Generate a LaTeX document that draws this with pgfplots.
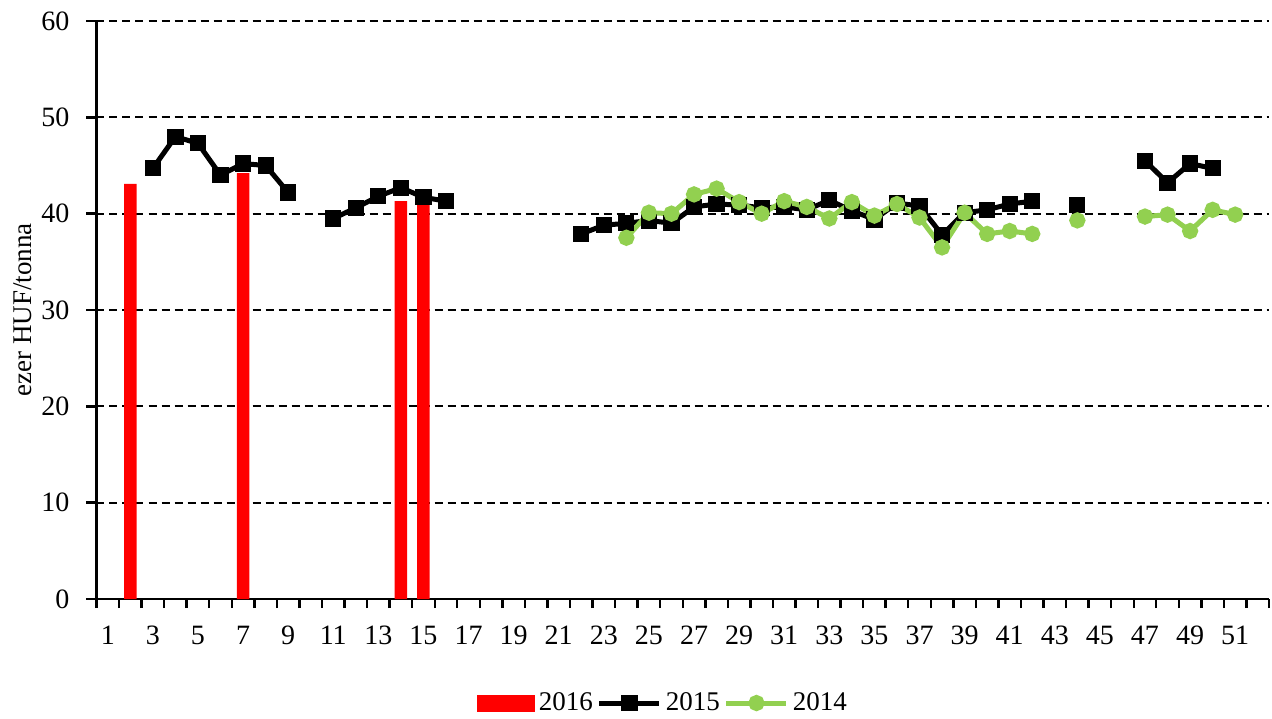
\documentclass[border=0pt]{standalone}
\usepackage{pgfplots}
\pgfplotsset{compat=1.18}
\usepackage{fontspec}
\setmainfont{Liberation Serif}
\definecolor{grn}{RGB}{146,208,80}
\pgfplotsset{
  longline legend/.style={legend image code/.code={\draw[##1, mark repeat=2, mark phase=2] plot coordinates {(0pt,0pt) (15pt,0pt) (30pt,0pt)};}},
  redbox legend/.style={legend image code/.code={\fill[red] (0pt,-4.25pt) rectangle (29pt,4.25pt);}},
}
\begin{document}
\begin{tikzpicture}
\path[use as bounding box] (-48.25pt,-59.5pt) rectangle (587.75pt,299.5pt);
\begin{axis}[
  at={(0,0)}, anchor=south west,
  scale only axis, width=586.25pt, height=289pt,
  xmin=0.5, xmax=52.5, ymin=0, ymax=60,
  axis x line*=bottom, axis y line*=left,
  axis line style={-, line width=1.2pt},
  ytick={0,10,...,60},
  xtick={1,3,...,51},
  minor xtick={0.5,1.5,...,52.5},
  major x tick style={draw=none},
  minor x tick style={line width=1.2pt, black},
  major y tick style={line width=1.2pt, black},
  tick align=outside, major tick length=5pt, minor tick length=4.5pt,
  ymajorgrids, major grid style={black, line width=0.9pt, dash pattern=on 4pt off 2.5pt},
  /pgf/number format/assume math mode=true,
  tick label style={font=\fontsize{14}{16}\selectfont},
  yticklabel style={xshift=-5pt},
  xticklabel style={yshift=-5pt},
  ylabel={ezer HUF/tonna},
  every axis y label/.style={at={(axis description cs:-0.063,0.5)}, rotate=90, anchor=center, font=\fontsize{13.5}{16}\selectfont},
  unbounded coords=jump,
  legend columns=3,
  legend style={draw=none, at={(axis description cs:0.484,-0.18)}, anchor=center,
    font=\fontsize{13.5}{16}\selectfont, /tikz/every even column/.append style={column sep=0pt}},
]
\addplot[ybar, bar width=6.2pt, fill=red, draw=none, redbox legend]
  coordinates {(2,43.1) (7,44.2) (14,41.3) (15,41.1)};
\addlegendentry{2016}
\addplot[black, line width=2.5pt, mark=square*, mark size=2.8pt, mark options={solid}, longline legend]
  coordinates {
  (3,44.7) (4,48.0) (5,47.3) (6,44.0) (7,45.2) (8,45.0) (9,42.2) (10,nan)
  (11,39.5) (12,40.6) (13,41.8) (14,42.7) (15,41.7) (16,41.3) (17,nan)
  (22,37.9) (23,38.8) (24,39.0) (25,39.3) (26,39.0) (27,40.7) (28,41.0) (29,40.9)
  (30,40.6) (31,40.7) (32,40.4) (33,41.4) (34,40.3) (35,39.4) (36,41.1) (37,40.8)
  (38,37.8) (39,40.1) (40,40.4) (41,41.0) (42,41.3) (43,nan)
  (44,40.9) (45,nan)
  (47,45.5) (48,43.2) (49,45.2) (50,44.7)
  };
\addlegendentry{2015}
\addplot[grn, line width=2.5pt, mark=*, mark size=2.8pt, mark options={solid}, longline legend]
  coordinates {
  (24,37.5) (25,40.1) (26,40.0) (27,42.0) (28,42.6) (29,41.2) (30,40.0) (31,41.3)
  (32,40.7) (33,39.5) (34,41.2) (35,39.8) (36,41.0) (37,39.6) (38,36.5) (39,40.1)
  (40,37.9) (41,38.2) (42,37.9) (43,nan)
  (44,39.3) (45,nan)
  (47,39.7) (48,39.9) (49,38.2) (50,40.4) (51,39.9)
  };
\addlegendentry{2014}
\end{axis}
\end{tikzpicture}
\end{document}
